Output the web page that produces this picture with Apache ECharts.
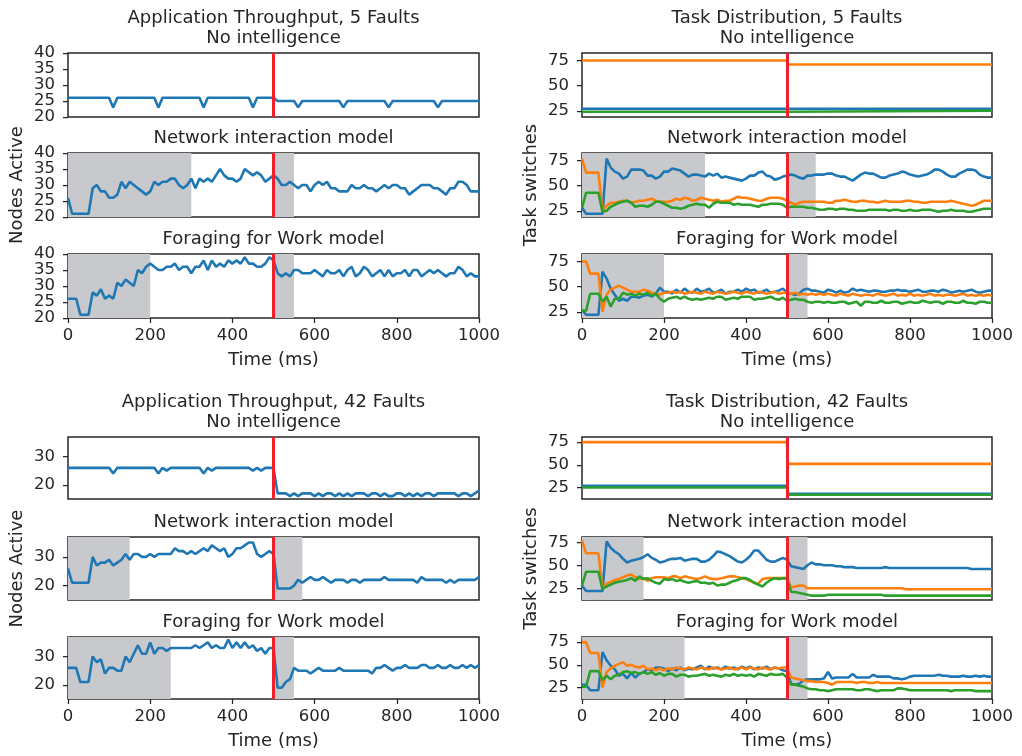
<!DOCTYPE html>
<html><head><meta charset="utf-8">
<script src="https://cdn.jsdelivr.net/npm/echarts@6/dist/echarts.min.js"></script>
<style>html,body{margin:0;padding:0;background:#fff}#c{width:1022px;height:756px}</style>
</head><body><div id="c"></div>
<script>
// ---------------- DATA ----------------
const TIME = [
  0,10,20,30,40,50,60,70,80,90,
  100,110,120,130,140,150,160,170,180,190,
  200,210,220,230,240,250,260,270,280,290,
  300,310,320,330,340,350,360,370,380,390,
  400,410,420,430,440,450,460,470,480,490,
  500,510,520,530,540,550,560,570,580,590,
  600,610,620,630,640,650,660,670,680,690,
  700,710,720,730,740,750,760,770,780,790,
  800,810,820,830,840,850,860,870,880,890,
  900,910,920,930,940,950,960,970,980,990,
  1000];
const STEP_TIME = [0, 500, 502, 1000];
const FAULT_TIME = 500;
const X_TICKS_INTERVAL = 200;
const Y_TICKS_NODES_5 = [20, 25, 30, 35, 40];
const Y_TICKS_NODES_42 = [20, 30];
const Y_TICKS_TASKS = [25, 50, 75];
const BLOCK_TITLES = ['Application Throughput, 5 Faults', 'Task Distribution, 5 Faults',
                      'Application Throughput, 42 Faults', 'Task Distribution, 42 Faults'];
const MODEL_TITLES = ['No intelligence', 'Network interaction model', 'Foraging for Work model'];
const X_LABEL = 'Time (ms)';
const Y_LABELS = ['Nodes Active', 'Task switches'];

// Nodes active, 5 faults
const NODES_5F_NOINT = [
  26,26,26,26,26,26,26,26,26,26,
  26,23,26,26,26,26,26,26,26,26,
  26,26,23,26,26,26,26,26,26,26,
  26,26,26,23,26,26,26,26,26,26,
  26,26,26,26,26,23,26,26,26,26,
  26,25,25,25,25,25,23,25,25,25,
  25,25,25,25,25,25,25,23,25,25,
  25,25,25,25,25,25,25,25,23,25,
  25,25,25,25,25,25,25,25,25,25,
  23,25,25,25,25,25,25,25,25,25,
  25];
const NODES_5F_NIM = [
  26,21,21,21,21,21,29,30,28,28,
  26,26,27,31,29,31,30,29,28,27,
  28,31,30,31,31,32,32,30,29,30,
  32,29,32,31,32,31,33,35,33,32,
  32,31,32,35,34,33,34,33,31,32,
  33,32,30,30,31,30,29,30,30,28,
  30,31,30,31,29,29,28,28,28,30,
  29,29,30,29,29,28,29,30,29,30,
  30,29,29,27,28,29,30,30,30,29,
  29,28,27,29,29,31,31,30,28,28,
  28];
const NODES_5F_FFW = [
  26,26,26,21,21,21,28,27,29,26,
  27,26,31,30,32,31,30,35,34,36,
  37,36,35,35,36,36,37,35,36,36,
  34,36,36,38,35,38,36,37,36,38,
  37,38,37,39,37,37,36,36,37,39,
  38,34,33,34,33,35,35,34,34,34,
  35,34,33,35,34,34,35,33,35,36,
  33,34,36,35,33,34,35,33,35,33,
  34,34,35,33,35,35,33,34,35,34,
  35,34,33,34,34,36,35,33,34,33,
  33];
// Nodes active, 42 faults
const NODES_42F_NOINT = [
  26,26,26,26,26,26,26,26,26,26,
  26,24,26,26,26,26,26,26,26,26,
  26,26,24,26,25,26,26,26,26,26,
  26,26,26,24,26,25,26,26,26,26,
  26,26,26,26,26,25,26,25,26,26,
  26,17,17,17,16,17,16,17,17,17,
  16,17,16,17,17,16,17,16,17,16,
  17,17,17,16,17,17,16,17,16,16,
  17,17,16,17,16,17,16,17,17,16,
  17,17,17,17,17,16,17,17,16,17,
  18];
const NODES_42F_NIM = [
  26,21,21,21,21,21,30,27,28,28,
  29,27,28,29,31,29,31,31,30,30,
  31,30,31,31,31,31,33,32,32,31,
  32,31,32,33,32,34,33,32,33,30,
  31,33,33,34,35,35,31,30,31,32,
  31,19,19,19,19,20,22,21,22,23,
  22,22,23,22,21,22,22,22,21,22,
  22,21,22,22,22,22,22,23,22,22,
  22,22,22,22,22,21,23,22,22,22,
  22,22,21,22,21,22,22,22,22,22,
  23];
const NODES_42F_FFW = [
  26,26,26,21,21,21,30,28,29,24,
  26,26,25,25,30,28,31,34,31,31,
  35,31,33,33,32,33,33,33,33,33,
  33,34,33,34,35,33,34,33,33,36,
  33,35,33,35,33,34,32,33,31,33,
  33,19,19,21,22,26,25,25,25,24,
  25,26,25,25,25,25,26,25,25,25,
  25,25,25,25,24,26,26,27,26,25,
  26,26,27,26,26,26,27,27,26,26,
  27,26,26,27,26,26,27,26,27,26,
  27];

// Task switches, 5 faults (three tasks: blue, orange, green)
const TASKS_5F_NOINT_A = [27, 27, 27, 27];
const TASKS_5F_NOINT_B = [75, 75, 71, 71];
const TASKS_5F_NOINT_C = [24, 24, 25, 25];
const TASKS_5F_NIM_A = [
  28,22,22,22,22,22,77,68,64,62,
  57,59,66,66,66,65,60,60,57,59,
  64,64,67,66,65,62,59,61,61,60,
  59,62,60,62,58,59,58,57,56,55,
  57,60,60,63,64,60,59,56,57,59,
  60,61,60,58,57,60,60,61,61,61,
  62,62,60,59,59,57,55,58,61,63,
  62,62,60,58,58,60,61,62,64,63,
  61,60,59,60,61,63,66,66,64,61,
  59,59,62,64,66,66,65,61,59,58,
  58];
const TASKS_5F_NIM_B = [
  77,63,63,63,63,25,30,33,33,34,
  35,35,33,34,35,35,36,37,35,34,
  34,34,35,37,36,38,37,35,36,38,
  37,36,35,36,34,35,35,37,39,38,
  38,37,36,35,35,37,38,38,38,37,
  35,33,31,33,34,34,34,34,34,34,
  33,33,35,35,36,35,34,34,35,35,
  34,34,33,34,35,34,34,34,34,35,
  35,34,34,33,33,34,34,34,34,34,
  35,34,33,32,31,30,31,33,35,35,
  35];
const TASKS_5F_NIM_C = [
  28,43,43,43,43,24,25,29,31,33,
  34,35,33,29,30,30,29,31,34,34,
  32,30,28,28,27,28,30,31,32,31,
  31,28,32,34,33,33,33,31,32,31,
  31,31,30,29,31,31,32,32,32,31,
  28,29,29,29,29,28,28,27,26,26,
  27,27,26,27,27,26,26,25,25,25,
  26,26,26,26,26,25,26,26,25,25,
  26,25,25,26,26,26,25,24,25,25,
  26,25,25,25,24,24,25,26,27,27,
  27];
const TASKS_5F_FFW_A = [
  27,22,22,22,22,65,58,48,42,36,
  38,36,40,40,39,41,42,40,43,49,
  45,45,43,47,44,48,45,44,48,45,
  46,48,44,45,47,43,45,45,47,45,
  48,46,47,44,45,47,44,45,46,48,
  44,43,42,43,47,48,46,46,45,44,
  47,46,44,46,44,45,48,46,47,46,
  45,46,46,45,45,46,46,47,46,46,
  45,46,47,45,45,46,46,45,47,46,
  44,45,46,45,46,47,45,44,45,46,
  46];
const TASKS_5F_FFW_B = [
  75,75,63,63,63,25,42,47,49,51,
  49,47,45,45,45,47,46,44,43,42,
  44,44,45,44,45,43,44,45,44,43,
  45,44,43,45,44,43,44,45,44,43,
  45,44,43,45,44,43,44,45,43,44,
  44,43,44,42,43,42,43,42,43,42,
  43,42,41,43,42,41,43,42,41,42,
  42,41,43,42,41,42,43,41,42,41,
  43,41,42,41,42,43,41,42,41,42,
  42,41,42,43,41,42,41,42,41,42,
  41];
const TASKS_5F_FFW_C = [
  26,26,43,43,43,35,40,30,38,38,
  44,42,43,41,43,42,44,41,43,38,
  35,38,39,40,38,40,38,37,38,37,
  38,39,38,40,40,37,38,39,38,40,
  40,40,37,38,38,39,40,38,37,39,
  36,37,38,37,37,35,34,35,35,34,
  35,34,34,35,35,33,34,35,31,35,
  35,34,34,36,34,34,35,35,33,34,
  35,34,34,36,35,34,35,35,33,35,
  35,34,34,36,34,34,33,35,35,34,
  34];
// Task switches, 42 faults
const TASKS_42F_NOINT_A = [27, 27, 18, 18];
const TASKS_42F_NOINT_B = [75, 75, 51, 51];
const TASKS_42F_NOINT_C = [25, 25, 17, 17];
const TASKS_42F_NIM_A = [
  28,22,22,22,22,22,76,69,65,62,
  57,53,55,56,57,59,62,58,56,53,
  54,56,57,57,58,55,56,57,57,54,
  54,56,60,65,64,62,60,57,54,53,
  56,60,66,66,61,56,54,54,56,58,
  56,49,48,47,46,50,53,51,51,50,
  50,50,49,49,48,48,48,47,47,47,
  47,47,47,47,48,47,47,47,47,47,
  47,47,47,47,47,47,47,47,47,47,
  47,47,47,47,47,46,46,46,46,46,
  46];
const TASKS_42F_NIM_B = [
  77,63,63,63,63,25,30,32,34,35,
  37,39,40,37,35,36,33,36,37,37,
  37,36,38,38,36,38,37,36,35,36,
  38,36,35,35,36,37,38,38,37,36,
  35,33,31,30,35,36,36,36,36,36,
  35,26,27,28,28,25,25,25,25,25,
  25,25,25,25,25,25,25,25,25,25,
  25,25,25,25,25,25,25,25,25,24,
  24,24,24,24,24,24,24,24,24,24,
  24,24,24,24,24,24,24,24,24,24,
  24];
const TASKS_42F_NIM_C = [
  28,43,43,43,43,24,27,29,31,32,
  33,34,36,33,38,35,36,33,31,30,
  35,34,35,33,34,32,31,32,33,31,
  31,30,31,28,29,29,31,33,34,36,
  36,34,31,29,27,31,34,36,35,36,
  36,21,21,20,19,18,17,17,17,17,
  18,18,18,18,18,18,18,18,18,18,
  18,18,18,18,17,17,17,17,17,17,
  17,17,17,17,17,17,17,17,17,17,
  17,17,17,17,17,17,17,17,17,17,
  17];
const TASKS_42F_FFW_A = [
  28,28,22,22,22,64,55,49,45,38,
  40,35,41,36,40,42,45,44,47,47,
  46,43,46,44,47,44,46,45,47,49,
  45,48,46,47,45,48,46,47,45,48,
  46,48,45,47,46,48,45,47,46,44,
  43,29,28,29,33,34,34,34,34,35,
  42,35,36,36,36,36,40,36,36,36,
  36,39,37,37,37,37,35,35,34,35,
  37,38,38,38,38,38,38,39,38,38,
  37,37,37,38,37,37,38,37,38,37,
  37];
const TASKS_42F_FFW_B = [
  75,75,63,63,63,25,42,46,49,51,
  53,49,50,48,47,49,45,46,44,46,
  44,46,45,47,46,45,47,46,45,47,
  46,45,47,46,45,46,47,45,46,47,
  45,47,46,45,47,46,45,47,46,47,
  47,36,35,34,33,32,32,31,31,31,
  30,28,31,31,31,31,31,30,31,31,
  30,30,31,30,30,30,30,30,30,30,
  30,30,30,30,30,30,30,30,30,30,
  30,30,30,30,30,30,30,30,30,30,
  30];
const TASKS_42F_FFW_C = [
  26,26,43,43,43,33,38,34,38,39,
  42,43,41,42,40,42,40,42,39,41,
  38,40,40,37,39,39,37,38,38,39,
  40,38,39,38,37,39,38,40,38,39,
  38,39,37,40,39,38,40,39,39,40,
  36,28,28,27,26,24,23,23,22,22,
  21,22,23,23,23,23,23,22,22,23,
  23,22,21,22,22,22,22,24,24,23,
  22,22,22,22,22,22,22,22,22,22,
  21,22,22,22,22,22,21,21,21,21,
  21];

// Shaded (adaptation) intervals in ms
const SHADE_NODES_5F_NIM = [[0, 300], [500, 550]];
const SHADE_NODES_5F_FFW = [[0, 200], [500, 550]];
const SHADE_TASKS_5F_NIM = [[0, 300], [500, 570]];
const SHADE_TASKS_5F_FFW = [[0, 200], [500, 550]];
const SHADE_NODES_42F_NIM = [[0, 150], [500, 570]];
const SHADE_NODES_42F_FFW = [[0, 250], [500, 550]];
const SHADE_TASKS_42F_NIM = [[0, 150], [500, 550]];
const SHADE_TASKS_42F_FFW = [[0, 250], [500, 550]];

// ---------------- LAYOUT / STYLE ----------------
const FONT = '"DejaVu Sans", sans-serif';
const TXT = '#262626';
const COLORS = ['#1f77b4', '#ff7f0e', '#2ca02c'];
const COL_LEFT = [68, 582];
const COL_W = [411, 410];
const ROW_TOP = [53, 153, 254, 437, 537, 637];
const ROW_H = [64, 64, 64, 62, 63, 62];
const Y_LABEL_MARGIN = 13;

const PANELS = [
  {c:0, r:0, x:TIME, ys:[NODES_5F_NOINT], shade:[], yr:[20,40], yt:Y_TICKS_NODES_5, dense:true},
  {c:0, r:1, x:TIME, ys:[NODES_5F_NIM], shade:SHADE_NODES_5F_NIM, yr:[20,40], yt:Y_TICKS_NODES_5, dense:true},
  {c:0, r:2, x:TIME, ys:[NODES_5F_FFW], shade:SHADE_NODES_5F_FFW, yr:[20,40], yt:Y_TICKS_NODES_5, dense:true},
  {c:0, r:3, x:TIME, ys:[NODES_42F_NOINT], shade:[], yr:[15,36.9], yt:Y_TICKS_NODES_42},
  {c:0, r:4, x:TIME, ys:[NODES_42F_NIM], shade:SHADE_NODES_42F_NIM, yr:[15,36.9], yt:Y_TICKS_NODES_42},
  {c:0, r:5, x:TIME, ys:[NODES_42F_FFW], shade:SHADE_NODES_42F_FFW, yr:[15,36.9], yt:Y_TICKS_NODES_42},
  {c:1, r:0, x:STEP_TIME, ys:[TASKS_5F_NOINT_A,TASKS_5F_NOINT_B,TASKS_5F_NOINT_C], shade:[], yr:[18.8,82.5], yt:Y_TICKS_TASKS},
  {c:1, r:1, x:TIME, ys:[TASKS_5F_NIM_A,TASKS_5F_NIM_B,TASKS_5F_NIM_C], shade:SHADE_TASKS_5F_NIM, yr:[18.8,82.5], yt:Y_TICKS_TASKS},
  {c:1, r:2, x:TIME, ys:[TASKS_5F_FFW_A,TASKS_5F_FFW_B,TASKS_5F_FFW_C], shade:SHADE_TASKS_5F_FFW, yr:[18.8,82.5], yt:Y_TICKS_TASKS},
  {c:1, r:3, x:STEP_TIME, ys:[TASKS_42F_NOINT_A,TASKS_42F_NOINT_B,TASKS_42F_NOINT_C], shade:[], yr:[12.3,80.7], yt:Y_TICKS_TASKS},
  {c:1, r:4, x:TIME, ys:[TASKS_42F_NIM_A,TASKS_42F_NIM_B,TASKS_42F_NIM_C], shade:SHADE_TASKS_42F_NIM, yr:[12.3,80.7], yt:Y_TICKS_TASKS},
  {c:1, r:5, x:TIME, ys:[TASKS_42F_FFW_A,TASKS_42F_FFW_B,TASKS_42F_FFW_C], shade:SHADE_TASKS_42F_FFW, yr:[12.3,80.7], yt:Y_TICKS_TASKS}
];

const grids = [], xAxes = [], yAxes = [], series = [], graphics = [];
PANELS.forEach((p, i) => {
  const bottom = (p.r === 2 || p.r === 5);
  const middle = (p.r === 1 || p.r === 4);
  grids.push({left: COL_LEFT[p.c], top: ROW_TOP[p.r], width: COL_W[p.c], height: ROW_H[p.r],
    show: true, borderColor: TXT, borderWidth: 1.5, backgroundColor: 'transparent',
    containLabel: false, outerBoundsMode: 'none'});
  xAxes.push({gridIndex: i, type: 'value', min: 0, max: 1000, interval: X_TICKS_INTERVAL,
    axisLine: {show: false}, splitLine: {show: false},
    axisTick: {show: bottom, length: 5, lineStyle: {color: TXT, width: 1.25}},
    axisLabel: {show: bottom, fontSize: 16.5, color: TXT, fontFamily: FONT, margin: 9,
      showMinLabel: true, showMaxLabel: true, hideOverlap: false, formatter: v => String(v)},
    name: bottom ? X_LABEL : '', nameLocation: 'middle', nameGap: 33,
    nameTextStyle: {fontSize: 18, color: TXT, fontFamily: FONT}});
  yAxes.push({gridIndex: i, type: 'value', min: p.yr[0], max: p.yr[1],
    axisLine: {show: false}, splitLine: {show: false},
    axisTick: {show: true, length: 5, customValues: p.yt, lineStyle: {color: TXT, width: 1.25}},
    axisLabel: {show: !p.dense, fontSize: 16.5, color: TXT, fontFamily: FONT, margin: Y_LABEL_MARGIN,
      customValues: p.yt, showMinLabel: true, showMaxLabel: true, hideOverlap: false,
      formatter: v => String(v)},
    name: middle ? Y_LABELS[p.c] : '', nameLocation: 'middle', nameGap: 42,
    nameTextStyle: {fontSize: 18, color: TXT, fontFamily: FONT}});
  // shading
  series.push({type: 'line', xAxisIndex: i, yAxisIndex: i, data: [], z: 1, silent: true,
    markArea: {silent: true, itemStyle: {color: '#c8c9cc'},
      data: p.shade.map(s => [{xAxis: s[0]}, {xAxis: s[1]}])}});
  p.ys.forEach((ys, k) => {
    series.push({type: 'line', xAxisIndex: i, yAxisIndex: i, z: 2, showSymbol: false, symbol: 'none',
      lineStyle: {color: COLORS[k], width: 2.6}, itemStyle: {color: COLORS[k]},
      data: p.x.map((t, j) => [t, ys[j]])});
  });
  // fault marker
  series.push({type: 'line', xAxisIndex: i, yAxisIndex: i, data: [], z: 3, silent: true,
    markLine: {silent: true, symbol: ['none', 'none'], label: {show: false},
      lineStyle: {color: '#f0202a', width: 3, type: 'solid'},
      data: [{xAxis: FAULT_TIME}]}});
  // subplot title
  const cx = COL_LEFT[p.c] + COL_W[p.c] / 2;
  const baseY = ROW_TOP[p.r] - 5.5;
  graphics.push({type: 'text', x: cx, y: baseY, silent: true,
    style: {text: MODEL_TITLES[p.r % 3], fill: TXT, font: '18px ' + FONT,
      align: 'center', verticalAlign: 'bottom', textAlign: 'center', textVerticalAlign: 'bottom'}});
  if (p.r === 0 || p.r === 3) {
    graphics.push({type: 'text', x: cx, y: baseY - 20.5, silent: true,
      style: {text: BLOCK_TITLES[(p.r === 0 ? 0 : 2) + p.c], fill: TXT, font: '18px ' + FONT,
        align: 'center', verticalAlign: 'bottom', textAlign: 'center', textVerticalAlign: 'bottom'}});
  }
});

const chart = echarts.init(document.getElementById('c'), null, {renderer: 'canvas'});
chart.setOption({
  animation: false,
  backgroundColor: '#ffffff',
  textStyle: {fontFamily: FONT},
  grid: grids, xAxis: xAxes, yAxis: yAxes, series: series, graphic: graphics
});

// tightly packed tick labels (ECharts would thin them out): place them via the axis scale
const tickTexts = [];
PANELS.forEach((p, i) => {
  if (!p.dense) return;
  p.yt.forEach(v => {
    const py = chart.convertToPixel({yAxisIndex: i}, v);
    tickTexts.push({type: 'text', x: COL_LEFT[p.c] - Y_LABEL_MARGIN, y: py, silent: true,
      style: {text: String(v), fill: TXT, font: '16.5px ' + FONT,
        align: 'right', verticalAlign: 'middle', textAlign: 'right', textVerticalAlign: 'middle'}});
  });
});
chart.setOption({graphic: graphics.concat(tickTexts)});
</script></body></html>
